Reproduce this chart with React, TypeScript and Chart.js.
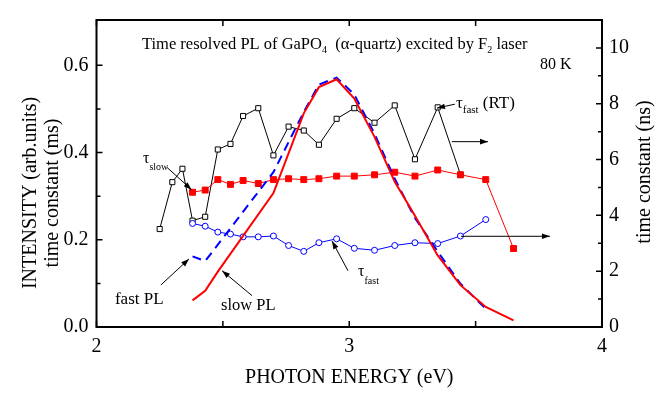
import React, { useEffect, useRef } from "react";
import { Chart, registerables } from "chart.js";

Chart.register(...registerables);

const FONT = "'Liberation Serif', 'Times New Roman', serif";

// ---- data (photon energy in eV) ----
const slowPLEnergy = [2.38, 2.43, 2.48, 2.70, 2.82, 2.88, 2.95, 3.02, 3.10, 3.18, 3.26, 3.35, 3.44, 3.54, 3.65];
const slowPLIntensity = [0.061, 0.083, 0.127, 0.307, 0.49, 0.55, 0.568, 0.524, 0.436, 0.333, 0.255, 0.164, 0.096, 0.046, 0.015];

const fastPLEnergy = [2.38, 2.43, 2.70, 2.82, 2.88, 2.95, 3.02, 3.10, 3.18, 3.26, 3.35, 3.44, 3.54];
const fastPLIntensity = [0.162, 0.151, 0.355, 0.493, 0.556, 0.572, 0.533, 0.443, 0.34, 0.25, 0.173, 0.099, 0.042];

const tauSlowEnergy = [2.38, 2.43, 2.48, 2.53, 2.58, 2.64, 2.70, 2.76, 2.82, 2.88, 2.95, 3.02, 3.10, 3.18, 3.26, 3.35, 3.44, 3.54, 3.65];
const tauSlowMs = [0.309, 0.314, 0.338, 0.327, 0.336, 0.329, 0.338, 0.340, 0.338, 0.340, 0.346, 0.346, 0.349, 0.355, 0.346, 0.360, 0.349, 0.338, 0.180];

const tauFastEnergy = [2.38, 2.43, 2.48, 2.53, 2.58, 2.64, 2.70, 2.76, 2.82, 2.88, 2.95, 3.02, 3.10, 3.18, 3.26, 3.35, 3.44, 3.54];
const tauFastNs = [3.71, 3.61, 3.40, 3.33, 3.23, 3.23, 3.26, 2.92, 2.71, 3.02, 3.16, 2.82, 2.75, 2.92, 3.02, 2.99, 3.26, 3.85];

const tauRTEnergy = [2.25, 2.30, 2.34, 2.38, 2.43, 2.48, 2.53, 2.58, 2.64, 2.70, 2.76, 2.82, 2.88, 2.95, 3.02, 3.10, 3.18, 3.26, 3.35, 3.44];
const tauRTNs = [3.51, 5.19, 5.67, 3.81, 3.95, 6.36, 6.56, 7.56, 7.84, 6.15, 7.18, 7.04, 6.53, 7.46, 7.84, 7.32, 7.94, 6.01, 7.87, 5.46];

// ---- ticks ----
const xMajorTicks = [2, 3, 4];
const xMinorTicks = [2.5, 3.5];
const yLeftMajorTicks = [0, 0.2, 0.4, 0.6];
const yLeftMinorTicks = [0.1, 0.3, 0.5];
const yRightMajorTicks = [0, 2, 4, 6, 8, 10];
const yRightMinorTicks = [1, 3, 5, 7, 9];

const pts = (xs: number[], ys: number[]) => xs.map((x, i) => ({ x, y: ys[i] }));

type Part = { t: string; size: number; dy?: number };

function drawRich(ctx: CanvasRenderingContext2D, x: number, y: number, parts: Part[]) {
  let cx = x;
  for (const p of parts) {
    ctx.font = `${p.size}px ${FONT}`;
    ctx.fillText(p.t, cx, y + (p.dy || 0));
    cx += ctx.measureText(p.t).width;
  }
}

function arrow(ctx: CanvasRenderingContext2D, x1: number, y1: number, x2: number, y2: number) {
  ctx.beginPath();
  ctx.moveTo(x1, y1);
  ctx.lineTo(x2, y2);
  ctx.stroke();
  const a = Math.atan2(y2 - y1, x2 - x1);
  const L = 8, W = 2.8;
  const c = Math.cos(a), s = Math.sin(a);
  ctx.beginPath();
  ctx.moveTo(x2, y2);
  ctx.lineTo(x2 - L * c + W * s, y2 - L * s - W * c);
  ctx.lineTo(x2 - L * c - W * s, y2 - L * s + W * c);
  ctx.closePath();
  ctx.fill();
}

const decorPlugin = {
  id: "decor",
  afterDraw(chart: any) {
    const { ctx, chartArea: ca, scales } = chart;
    const xs = scales.x, yl = scales.y, yr = scales.y2;
    const X = (v: number) => xs.getPixelForValue(v);
    const Y = (v: number) => yl.getPixelForValue(v);
    const YR = (v: number) => yr.getPixelForValue(v);
    ctx.save();
    ctx.strokeStyle = "#000";
    ctx.fillStyle = "#000";

    // frame
    ctx.lineWidth = 2;
    ctx.strokeRect(ca.left, ca.top, ca.right - ca.left, ca.bottom - ca.top);

    // ticks (inward)
    ctx.lineWidth = 1.5;
    ctx.beginPath();
    for (const v of [...xMajorTicks, ...xMinorTicks]) {
      const px = X(v);
      ctx.moveTo(px, ca.bottom); ctx.lineTo(px, ca.bottom - 6);
      ctx.moveTo(px, ca.top); ctx.lineTo(px, ca.top + 6);
    }
    for (const v of yLeftMajorTicks) { const py = Y(v); ctx.moveTo(ca.left, py); ctx.lineTo(ca.left + 6, py); }
    for (const v of yLeftMinorTicks) { const py = Y(v); ctx.moveTo(ca.left, py); ctx.lineTo(ca.left + 4, py); }
    for (const v of yRightMajorTicks) { const py = YR(v); ctx.moveTo(ca.right, py); ctx.lineTo(ca.right - 6, py); }
    for (const v of yRightMinorTicks) { const py = YR(v); ctx.moveTo(ca.right, py); ctx.lineTo(ca.right - 4, py); }
    ctx.stroke();

    // axis titles
    ctx.textBaseline = "middle";
    ctx.textAlign = "center";
    ctx.font = `20px ${FONT}`;
    ctx.fillText("PHOTON ENERGY (eV)", (ca.left + ca.right) / 2, 378);
    ctx.save();
    ctx.translate(31, 193);
    ctx.rotate(-Math.PI / 2);
    ctx.fillText("INTENSITY (arb.units)", 0, 0);
    ctx.restore();
    ctx.save();
    ctx.translate(53, 193);
    ctx.rotate(-Math.PI / 2);
    ctx.fillText("time constant (ms)", 0, 0);
    ctx.restore();
    ctx.save();
    ctx.translate(645, 172);
    ctx.rotate(-Math.PI / 2);
    ctx.fillText("time constant (ns)", 0, 0);
    ctx.restore();

    // in-plot texts
    ctx.textAlign = "left";
    ctx.textBaseline = "alphabetic";
    drawRich(ctx, X(2.18), Y(0.6366), [
      { t: "Time resolved PL of GaPO", size: 16.5 },
      { t: "4", size: 10, dy: 4 },
      { t: "  (\u03b1-quartz) excited by F", size: 16.5 },
      { t: "2", size: 10, dy: 4 },
      { t: " laser", size: 16.5 },
    ]);
    drawRich(ctx, X(3.755), Y(0.592), [{ t: "80 K", size: 16 }]);
    drawRich(ctx, X(3.422), Y(0.502), [
      { t: "\u03c4", size: 17 },
      { t: "fast", size: 11, dy: 5 },
      { t: " (RT)", size: 17 },
    ]);
    drawRich(ctx, X(2.184), Y(0.377), [
      { t: "\u03c4", size: 16 },
      { t: "slow", size: 10, dy: 7 },
    ]);
    drawRich(ctx, X(3.035), Y(0.118), [
      { t: "\u03c4", size: 16 },
      { t: "fast", size: 10, dy: 8 },
    ]);
    drawRich(ctx, X(2.073), Y(0.0526), [{ t: "fast PL", size: 17 }]);
    drawRich(ctx, X(2.4926), Y(0.0395), [{ t: "slow PL", size: 16.5 }]);

    // arrows
    ctx.lineWidth = 1;
    arrow(ctx, X(3.418), Y(0.511), X(3.347), Y(0.502));
    arrow(ctx, X(3.406), Y(0.425), X(3.549), Y(0.425));
    arrow(ctx, X(2.279), Y(0.366), X(2.376), Y(0.315));
    arrow(ctx, X(2.995), Y(0.129), X(2.932), Y(0.197));
    arrow(ctx, X(3.442), Y(0.208), X(3.794), Y(0.208));
    arrow(ctx, X(2.255), Y(0.0965), X(2.366), Y(0.156));
    arrow(ctx, X(2.615), Y(0.072), X(2.497), Y(0.129));

    ctx.restore();
  },
};

export default function App() {
  const ref = useRef<HTMLCanvasElement>(null);
  useEffect(() => {
    document.body.style.margin = "0";
    const tickFont = { family: FONT, size: 20 };
    const chart = new Chart(ref.current!, {
      type: "line",
      data: {
        datasets: [
          {
            label: "slow PL",
            data: pts(slowPLEnergy, slowPLIntensity),
            yAxisID: "y",
            borderColor: "#ff0000",
            borderWidth: 2,
            pointRadius: 0,
            order: 1,
          },
          {
            label: "fast PL",
            data: pts(fastPLEnergy, fastPLIntensity),
            yAxisID: "y",
            borderColor: "#0000ff",
            borderWidth: 2,
            borderDash: [9, 6],
            pointRadius: 0,
            order: 2,
          },
          {
            label: "tau slow",
            data: pts(tauSlowEnergy, tauSlowMs),
            yAxisID: "y",
            borderColor: "#ff0000",
            backgroundColor: "#ff0000",
            borderWidth: 1,
            pointStyle: "rect",
            pointRadius: 4.2,
            pointBorderWidth: 1,
            order: 3,
          },
          {
            label: "tau fast",
            data: pts(tauFastEnergy, tauFastNs),
            yAxisID: "y2",
            borderColor: "#0000ff",
            backgroundColor: "#ffffff",
            pointBackgroundColor: "#ffffff",
            borderWidth: 1,
            pointStyle: "circle",
            pointRadius: 3,
            pointBorderWidth: 1,
            order: 4,
          },
          {
            label: "tau fast RT",
            data: pts(tauRTEnergy, tauRTNs),
            yAxisID: "y2",
            borderColor: "#000000",
            backgroundColor: "#ffffff",
            pointBackgroundColor: "#ffffff",
            borderWidth: 1,
            pointStyle: "rect",
            pointRadius: 3.6,
            pointBorderWidth: 1,
            order: 5,
          },
        ],
      },
      options: {
        responsive: false,
        animation: false,
        layout: { padding: { top: 6, left: 0, right: 0, bottom: 0 } },
        plugins: { legend: { display: false }, tooltip: { enabled: false } },
        scales: {
          x: {
            type: "linear",
            position: "bottom",
            min: 2,
            max: 4,
            grid: { display: false, drawTicks: false },
            border: { display: false },
            ticks: { font: tickFont, color: "#000", padding: 8, maxRotation: 0, callback: (v: any) => String(v) },
            afterBuildTicks: (s: any) => { s.ticks = xMajorTicks.map((v) => ({ value: v })); },
            afterFit: (s: any) => { s.height = 67; },
          },
          y: {
            type: "linear",
            position: "left",
            min: 0,
            max: 0.704,
            grid: { display: false, drawTicks: false },
            border: { display: false },
            ticks: { font: tickFont, color: "#000", padding: 8, callback: (v: any) => Number(v).toFixed(1) },
            afterBuildTicks: (s: any) => { s.ticks = yLeftMajorTicks.map((v) => ({ value: v })); },
            afterFit: (s: any) => { s.width = 96.5; },
          },
          y2: {
            type: "linear",
            position: "right",
            min: 0,
            max: 11,
            grid: { display: false, drawTicks: false },
            border: { display: false },
            ticks: { font: tickFont, color: "#000", padding: 7, callback: (v: any) => String(v) },
            afterBuildTicks: (s: any) => { s.ticks = yRightMajorTicks.map((v) => ({ value: v })); },
            afterFit: (s: any) => { s.width = 62; },
          },
        },
      },
      plugins: [decorPlugin],
    } as any);
    return () => chart.destroy();
  }, []);
  return <canvas ref={ref} width={664} height={394} style={{ display: "block", width: 664, height: 394 }} />;
}
